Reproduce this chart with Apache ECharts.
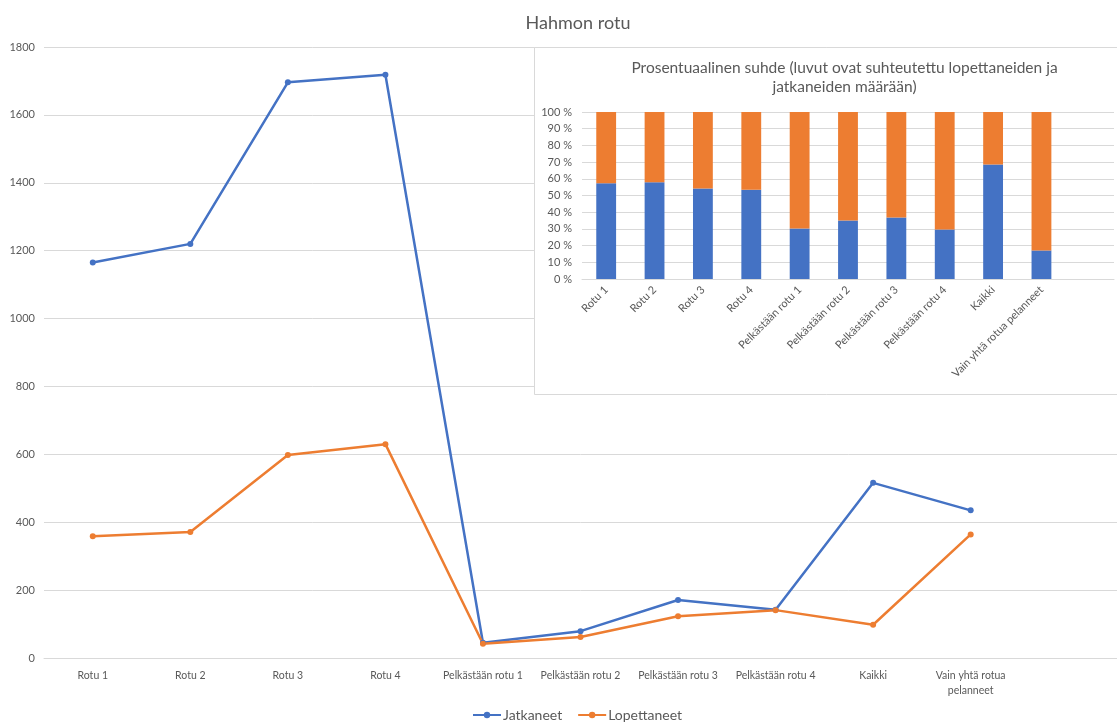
<!DOCTYPE html>
<html>
<head>
<meta charset="utf-8">
<title>Hahmon rotu</title>
<script src="https://cdn.jsdelivr.net/npm/echarts@6/dist/echarts.min.js"></script>
<style>
  html, body { margin: 0; padding: 0; background: #ffffff; }
  #chart { width: 1117px; height: 725px; }
</style>
</head>
<body>
<div id="chart"></div>
<script>
// Categories (the trailing empty slot keeps a blank band at the right end)
const categories = ['Rotu 1', 'Rotu 2', 'Rotu 3', 'Rotu 4',
  'Pelkästään rotu 1', 'Pelkästään rotu 2', 'Pelkästään rotu 3', 'Pelkästään rotu 4',
  'Kaikki', 'Vain yhtä rotua pelanneet', ''];

// Player counts
const jatkaneet = [1165, 1220, 1696, 1718, 45, 79, 171, 142, 516, 435];
const lopettaneet = [359, 371, 598, 630, 42, 62, 123, 141, 98, 364];

// Relative shares (%) for the stacked inset chart
const jatkaneetOsuus = [57.4, 58.0, 54.2, 53.4, 30.3, 35.1, 36.9, 29.7, 68.5, 17.1];
const lopettaneetOsuus = [42.6, 42.0, 45.8, 46.6, 69.7, 64.9, 63.1, 70.3, 31.5, 82.9];

const yTicks = { min: 0, max: 1800, interval: 200 };
const pctTicks = { min: 0, max: 100, interval: 10 };

const BLUE = '#4472C4';
const ORANGE = '#ED7D31';
const TEXT = '#595959';
const GRID = '#d9d9d9';
const FONT = 'Lato, "Open Sans", sans-serif';

// Long category names wrap onto two lines on the main axis
const wrapLabel = name => name === 'Vain yhtä rotua pelanneet' ? 'Vain yhtä rotua\npelanneet' : name;

const chart = echarts.init(document.getElementById('chart'), null, { renderer: 'canvas' });

chart.setOption({
  backgroundColor: '#ffffff',
  animation: false,
  textStyle: { fontFamily: FONT },
  title: {
    text: 'Hahmon rotu',
    left: 573,
    textAlign: 'center',
    top: 9,
    textStyle: { fontFamily: FONT, fontSize: 18, fontWeight: 'normal', color: TEXT }
  },
  legend: {
    left: 467,
    top: 703,
    itemWidth: 28,
    itemHeight: 8,
    itemGap: 15,
    textStyle: { fontFamily: FONT, fontSize: 14, color: TEXT, padding: [0, 0, 0, -3] },
    data: ['Jatkaneet', 'Lopettaneet']
  },
  graphic: [
    {
      type: 'rect',
      z: 3,
      shape: { x: 534.5, y: 47.5, width: 640, height: 347 },
      style: { fill: '#ffffff', stroke: GRID, lineWidth: 1 }
    },
    {
      type: 'text',
      z: 4,
      x: 844.5,
      y: 58,
      style: {
        text: 'Prosentuaalinen suhde (luvut ovat suhteutettu lopettaneiden ja\njatkaneiden määrään)',
        fontFamily: FONT,
        fontSize: 15.5,
        lineHeight: 19,
        fill: TEXT,
        align: 'center',
        verticalAlign: 'top'
      }
    }
  ],
  grid: [
    { left: 44, top: 47, width: 1085, height: 611, containLabel: false },
    { left: 582, top: 112, width: 532, height: 167, containLabel: false }
  ],
  xAxis: [
    {
      type: 'category',
      gridIndex: 0,
      data: categories,
      boundaryGap: true,
      axisLine: { show: true, lineStyle: { color: GRID, width: 1 } },
      axisTick: { show: false },
      axisLabel: {
        color: TEXT, fontFamily: FONT, fontSize: 10.5, margin: 10,
        interval: 0, lineHeight: 15, formatter: wrapLabel
      }
    },
    {
      type: 'category',
      gridIndex: 1,
      data: categories,
      boundaryGap: true,
      z: 5,
      axisLine: { show: true, lineStyle: { color: GRID, width: 1 } },
      axisTick: { show: false },
      axisLabel: {
        color: TEXT, fontFamily: FONT, fontSize: 11, margin: 9,
        interval: 0, rotate: 45
      }
    }
  ],
  yAxis: [
    {
      type: 'value',
      gridIndex: 0,
      min: yTicks.min, max: yTicks.max, interval: yTicks.interval,
      axisLine: { show: false },
      axisTick: { show: false },
      axisLabel: {
        color: TEXT, fontFamily: FONT, fontSize: 11, margin: 9,
        formatter: v => String(v)
      },
      splitLine: { show: true, lineStyle: { color: GRID, width: 1 } }
    },
    {
      type: 'value',
      gridIndex: 1,
      z: 5,
      min: pctTicks.min, max: pctTicks.max, interval: pctTicks.interval,
      axisLine: { show: false },
      axisTick: { show: false },
      axisLabel: {
        color: TEXT, fontFamily: FONT, fontSize: 11, margin: 10,
        formatter: v => v + ' %'
      },
      splitLine: { show: true, lineStyle: { color: GRID, width: 1 } }
    }
  ],
  series: [
    {
      name: 'Jatkaneet',
      type: 'line',
      xAxisIndex: 0, yAxisIndex: 0,
      data: jatkaneet,
      color: BLUE,
      symbol: 'circle',
      symbolSize: 6,
      lineStyle: { width: 2.5, color: BLUE },
      itemStyle: { color: BLUE },
      z: 2
    },
    {
      name: 'Lopettaneet',
      type: 'line',
      xAxisIndex: 0, yAxisIndex: 0,
      data: lopettaneet,
      color: ORANGE,
      symbol: 'circle',
      symbolSize: 6,
      lineStyle: { width: 2.5, color: ORANGE },
      itemStyle: { color: ORANGE },
      z: 2
    },
    {
      name: 'Jatkaneet osuus',
      type: 'bar',
      xAxisIndex: 1, yAxisIndex: 1,
      stack: 'osuus',
      data: jatkaneetOsuus,
      barWidth: '41%',
      itemStyle: { color: BLUE },
      z: 6
    },
    {
      name: 'Lopettaneet osuus',
      type: 'bar',
      xAxisIndex: 1, yAxisIndex: 1,
      stack: 'osuus',
      data: lopettaneetOsuus,
      barWidth: '41%',
      itemStyle: { color: ORANGE },
      z: 6
    }
  ]
});
</script>
</body>
</html>
